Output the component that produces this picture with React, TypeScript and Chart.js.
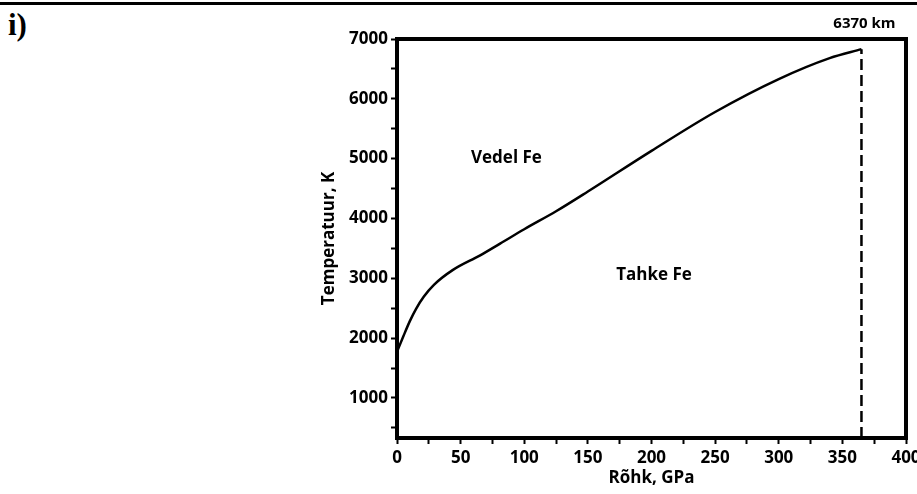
import React, { useEffect, useRef } from 'react';
import { Chart, registerables } from 'chart.js';

Chart.register(...registerables);

// Melting curve of iron: pressure (GPa) vs temperature (K)
const pressure = [0, 5, 10, 15, 21, 29, 44, 65, 81, 100, 125, 150, 200, 250, 300, 340, 365];
const temperature = [1770, 2030, 2280, 2490, 2690, 2890, 3140, 3380, 3580, 3820, 4120, 4450, 5130, 5780, 6330, 6680, 6830];

// Earth's centre (6370 km) boundary line
const boundaryPressure = [365, 365];
const boundaryTemperature = [330, 6830];
const boundaryLabel = '6370 km';

// Axis ticks
const xTicks = [0, 25, 50, 75, 100, 125, 150, 175, 200, 225, 250, 275, 300, 325, 350, 375, 400];
const xLabels = [0, 50, 100, 150, 200, 250, 300, 350, 400];
const yTicks = [500, 1000, 1500, 2000, 2500, 3000, 3500, 4000, 4500, 5000, 5500, 6000, 6500, 7000];
const yLabels = [1000, 2000, 3000, 4000, 5000, 6000, 7000];

// Region labels
const regionNames = ['Vedel Fe', 'Tahke Fe'];
const regionPressure = [86, 202];
const regionTemperature = [5010, 3060];

const FONT = '"Open Sans", "DejaVu Sans", sans-serif';

export default function App() {
  const ref = useRef<HTMLCanvasElement | null>(null);

  useEffect(() => {
    if (!ref.current) return;

    const framePlugin = {
      id: 'frame',
      afterDraw(chart: any) {
        const { ctx, chartArea } = chart;
        const xs = chart.scales.x;
        const ys = chart.scales.y;
        ctx.save();
        ctx.strokeStyle = '#000';
        ctx.lineWidth = 4;
        ctx.strokeRect(chartArea.left, chartArea.top, chartArea.right - chartArea.left, chartArea.bottom - chartArea.top);
        ctx.fillStyle = '#000';
        ctx.font = `bold 17px ${FONT}`;
        ctx.textAlign = 'center';
        ctx.textBaseline = 'middle';
        regionNames.forEach((n, i) => {
          ctx.fillText(n, xs.getPixelForValue(regionPressure[i]), ys.getPixelForValue(regionTemperature[i]));
        });
        ctx.font = `bold 15px ${FONT}`;
        ctx.fillText(boundaryLabel, xs.getPixelForValue(boundaryPressure[0]) + 3, 24);
        ctx.restore();
      },
    };

    const tickFont = { family: FONT, size: 17, weight: 'bold' };

    const chart = new Chart(ref.current, {
      type: 'line',
      data: {
        datasets: [
          {
            data: pressure.map((p, i) => ({ x: p, y: temperature[i] })),
            borderColor: '#000',
            borderWidth: 2.5,
            pointRadius: 0,
            tension: 0.4,
            cubicInterpolationMode: 'monotone',
          },
          {
            data: boundaryPressure.map((p, i) => ({ x: p, y: boundaryTemperature[i] })),
            borderColor: '#000',
            borderWidth: 2.5,
            borderDash: [11, 5],
            pointRadius: 0,
          },
        ],
      },
      options: {
        animation: false,
        responsive: false,
        events: [],
        layout: { padding: { left: 316, top: 39, right: 11, bottom: 1.8 } },
        plugins: { legend: { display: false }, tooltip: { enabled: false } },
        scales: {
          x: {
            type: 'linear',
            min: 0,
            max: 400,
            afterBuildTicks: (s: any) => {
              s.ticks = xTicks.map((v) => ({ value: v }));
            },
            afterFit: (s: any) => {
              s.height = 54.2;
              s.paddingLeft = 0;
              s.paddingRight = 0;
            },
            grid: { drawOnChartArea: false, drawTicks: true, tickLength: 6, tickWidth: 2, tickColor: '#000' },
            border: { display: false },
            ticks: {
              autoSkip: false,
              maxRotation: 0,
              padding: 4,
              color: '#000',
              font: tickFont,
              callback: (v: any) => (xLabels.includes(Number(v)) ? String(v) : ''),
            },
            title: {
              display: true,
              text: 'Rõhk, GPa',
              color: '#000',
              font: tickFont,
            },
          },
          y: {
            type: 'linear',
            min: 330,
            max: 7000,
            afterBuildTicks: (s: any) => {
              s.ticks = yTicks.map((v) => ({ value: v }));
            },
            afterFit: (s: any) => {
              s.width = 81;
              s.paddingTop = 0;
              s.paddingBottom = 0;
            },
            grid: { drawOnChartArea: false, drawTicks: true, tickLength: 6, tickWidth: 2, tickColor: '#000' },
            border: { display: false },
            ticks: {
              autoSkip: false,
              padding: 3,
              color: '#000',
              font: tickFont,
              callback: (v: any) => (yLabels.includes(Number(v)) ? String(v) : ''),
            },
            title: {
              display: true,
              text: 'Temperatuur, K',
              color: '#000',
              font: tickFont,
              padding: { top: 3, bottom: 4 },
            },
          },
        },
      } as any,
      plugins: [framePlugin],
    });

    return () => chart.destroy();
  }, []);

  return (
    <div style={{ position: 'fixed', left: 0, top: 0, width: 917, height: 494, background: '#fff', overflow: 'hidden' }}>
      <div style={{ position: 'absolute', left: 0, top: 2, width: 917, height: 3, background: '#000' }} />
      <div
        style={{
          position: 'absolute',
          left: 8,
          top: 8,
          font: 'bold 31px "Liberation Serif", serif',
          lineHeight: '34px',
          color: '#000',
        }}
      >
        i)
      </div>
      <canvas ref={ref} width={917} height={494} style={{ position: 'absolute', left: 0, top: 0 }} />
    </div>
  );
}
